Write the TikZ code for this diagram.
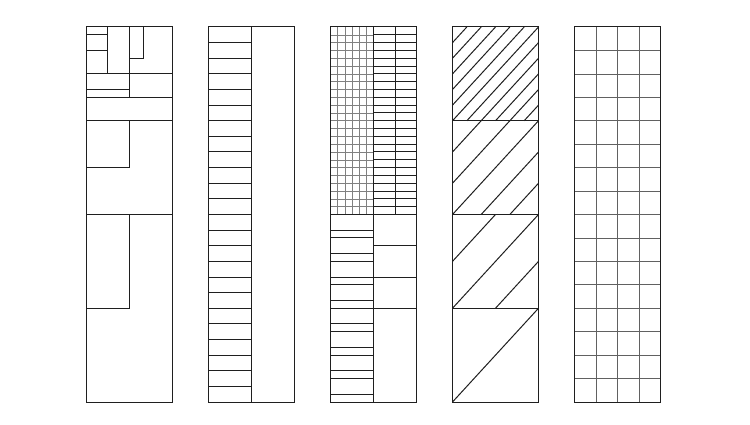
\documentclass[tikz,border=0pt]{standalone}
% hatched section of column 4: #1 = top y, #2 = number of divisions, #3 = list 1..n-1
\newcommand\hatchsec[3]{%
  \draw[frame] (452.5,{#1+93.75}) -- (538.5,#1);
  \foreach \k in {#3}{
    \draw[frame] (452.5,{#1+93.75*(1-\k/#2)}) -- ({452.5+86*(1-\k/#2)},#1);
    \draw[frame] ({452.5+86*\k/#2},{#1+93.75}) -- (538.5,{#1+93.75*\k/#2});
  }}
\begin{document}
\begin{tikzpicture}[x=1pt,y=-1pt,
  frame/.style={draw=black!88,line width=1pt},
  fine/.style={draw=black!50,line width=0.55pt},
  mid/.style={draw=black!62,line width=0.65pt}]
\useasboundingbox (0,0) rectangle (750,425);
\fill[white] (0,0) rectangle (750,425);

% ---------- column 1 ----------
\draw[frame] (86,27) rectangle (172,402);
\draw[frame] (86,73.3) -- (172,73.3);
\draw[frame] (86,97.3) -- (172,97.3);
\draw[frame] (86,120.75) -- (172,120.75);
\draw[frame] (86,214.5) -- (172,214.5);
\draw[frame] (129,27) -- (129,97.3);
\draw[frame] (107.5,27) -- (107.5,73.3);
\draw[frame] (86,34.7) -- (107.5,34.7);
\draw[frame] (86,50.7) -- (107.5,50.7);
\draw[frame] (143.3,27) -- (143.3,58.3) -- (129,58.3);
\draw[frame] (86,89.3) -- (129,89.3);
\draw[frame] (129,120.75) -- (129,167.6) -- (86,167.6);
\draw[frame] (129,214.5) -- (129,308.25) -- (86,308.25);

% ---------- column 2 ----------
\foreach \k in {1,...,23}
  \draw[frame] (208,{27+15.625*\k}) -- (251,{27+15.625*\k});
\draw[frame] (251,27) -- (251,402);
\draw[frame] (208,27) rectangle (294,402);

% ---------- column 3 ----------
\foreach \i in {1,...,5}
  \draw[fine] ({330.5+43/6*\i},27) -- ({330.5+43/6*\i},214.5);
\foreach \k in {1,...,23}
  \draw[fine] (330.5,{27+7.8125*\k}) -- (373.5,{27+7.8125*\k});
\foreach \k in {1,...,23}
  \draw[frame] (373.5,{27+7.8125*\k}) -- (416.5,{27+7.8125*\k});
\draw[frame] (395,27) -- (395,214.5);
\foreach \k in {2,3,5,6,8,9,11,12,14,15,17,18,20,21,23}
  \draw[frame] (330.5,{214.5+7.8125*\k}) -- (373.5,{214.5+7.8125*\k});
\foreach \j in {1,2,3}
  \draw[frame] (373.5,{214.5+31.25*\j}) -- (416.5,{214.5+31.25*\j});
\draw[frame] (330.5,214.5) -- (416.5,214.5);
\draw[frame] (373.5,27) -- (373.5,402);
\draw[frame] (330.5,27) rectangle (416.5,402);

% ---------- column 4 ----------
\hatchsec{27}{6}{1,2,3,4,5}
\hatchsec{120.75}{3}{1,2}
\hatchsec{214.5}{2}{1}
\draw[frame] (452.5,402) -- (538.5,308.25);
\draw[frame] (452.5,120.75) -- (538.5,120.75);
\draw[frame] (452.5,214.5) -- (538.5,214.5);
\draw[frame] (452.5,308.25) -- (538.5,308.25);
\draw[frame] (452.5,27) rectangle (538.5,402);

% ---------- column 5 ----------
\foreach \i in {1,2,3}
  \draw[mid] ({574.5+21.5*\i},27) -- ({574.5+21.5*\i},402);
\foreach \k in {1,...,15}
  \draw[mid] (574.5,{27+23.4375*\k}) -- (660.5,{27+23.4375*\k});
\draw[frame] (574.5,27) rectangle (660.5,402);
\end{tikzpicture}
\end{document}
